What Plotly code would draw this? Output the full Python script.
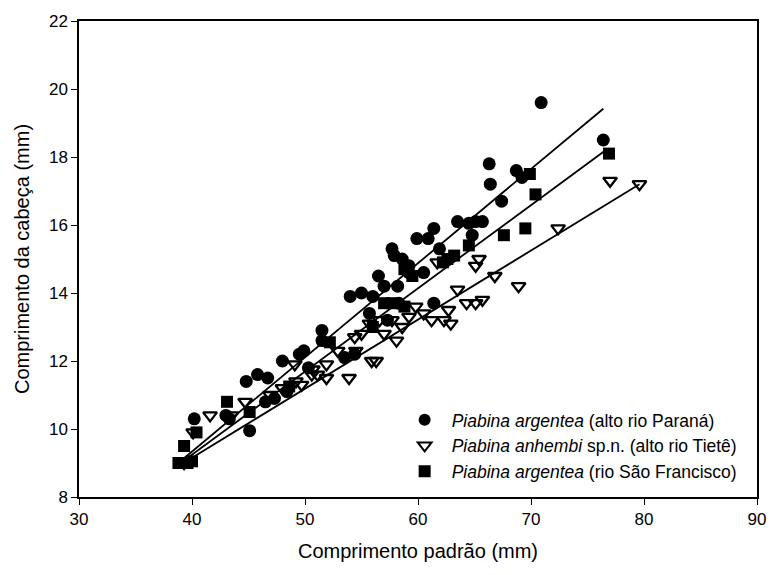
import plotly.graph_objects as go

# Piabina argentea (alto rio Paraná) - circles
parana_x = [40.2, 43.0, 43.3, 44.8, 45.1, 45.8, 46.7, 46.5, 47.3, 48.0, 48.4, 49.5, 49.9, 50.3,
            51.5, 51.5, 53.5, 54.4, 54.0, 55.0, 55.7, 56.0, 56.5, 57.0, 57.3, 57.7, 57.9, 58.2,
            58.3, 58.6, 59.2, 59.2, 59.9, 60.5, 60.9, 61.4, 61.4, 61.9, 63.5, 64.5, 64.8, 65.1,
            65.7, 66.3, 66.4, 67.4, 68.7, 69.2, 70.9, 76.4]
parana_y = [10.3, 10.4, 10.3, 11.4, 9.95, 11.6, 11.5, 10.8, 10.9, 12.0, 11.1, 12.2, 12.3, 11.8,
            12.9, 12.6, 12.1, 12.2, 13.9, 14.0, 13.4, 13.9, 14.5, 14.2, 13.2, 15.3, 15.1, 14.2,
            13.7, 15.0, 14.6, 14.8, 15.6, 14.6, 15.6, 15.9, 13.7, 15.3, 16.1, 16.05, 15.7, 16.1,
            16.1, 17.8, 17.2, 16.7, 17.6, 17.4, 19.6, 18.5]

# Piabina anhembi sp.n. (alto rio Tietê) - open down triangles
anhembi_x = [39.3, 40.1, 41.6, 43.5, 44.7, 46.9, 48.0, 49.1, 49.2, 49.7, 50.6, 50.7, 51.1, 51.9,
             51.9, 52.9, 53.9, 54.4, 54.5, 55.0, 55.7, 55.9, 56.3, 56.6, 57.0, 57.7, 58.1, 58.6,
             59.2, 59.8, 60.5, 61.2, 61.7, 62.3, 62.7, 62.9, 63.5, 64.3, 65.1, 65.7, 65.1, 65.4,
             66.8, 68.9, 72.4, 77.0, 79.6]
anhembi_y = [9.0, 9.9, 10.4, 10.4, 10.8, 11.0, 11.2, 11.9, 11.4, 11.3, 11.6, 11.75, 11.6, 11.9,
             11.5, 12.3, 11.5, 12.7, 12.3, 12.8, 13.1, 12.0, 12.0, 13.2, 12.8, 13.2, 12.6, 13.0,
             13.3, 13.6, 13.4, 13.2, 14.9, 13.2, 13.5, 13.1, 14.1, 13.7, 13.7, 13.8, 14.8, 15.0,
             14.5, 14.2, 15.9, 17.3, 17.2]

# Piabina argentea (rio São Francisco) - squares
sf_x = [38.8, 39.3, 39.6, 40.0, 40.4, 43.1, 45.1, 48.6, 52.2, 56.0, 57.0, 57.7, 58.8, 59.5,
        58.8, 62.2, 62.6, 63.2, 64.5, 67.6, 69.5, 69.9, 70.4, 76.9]
sf_y = [9.0, 9.5, 9.0, 9.05, 9.9, 10.8, 10.5, 11.25, 12.55, 13.0, 13.7, 13.7, 14.7, 14.5,
        13.6, 14.9, 15.0, 15.1, 15.4, 15.7, 15.9, 17.5, 16.9, 18.1]

# regression line end points
line_parana_x = [39.0, 76.4]
line_parana_y = [9.06, 19.42]
line_sf_x = [39.0, 76.6]
line_sf_y = [9.0, 18.2]
line_anhembi_x = [39.0, 79.6]
line_anhembi_y = [8.95, 17.2]

x_ticks = [30, 40, 50, 60, 70, 80, 90]
y_ticks = [8, 10, 12, 14, 16, 18, 20, 22]

FONT = "Liberation Sans, Arial"

fig = go.Figure()
for lx, ly in [(line_parana_x, line_parana_y), (line_sf_x, line_sf_y), (line_anhembi_x, line_anhembi_y)]:
    fig.add_trace(go.Scatter(x=lx, y=ly, mode="lines", line=dict(color="black", width=1.8),
                             showlegend=False, hoverinfo="skip"))

fig.add_trace(go.Scatter(x=parana_x, y=parana_y, mode="markers",
                         name="<i>Piabina argentea</i> (alto rio Paraná)",
                         marker=dict(symbol="circle", size=13, color="black")))
fig.add_trace(go.Scatter(x=anhembi_x, y=anhembi_y, mode="markers",
                         name="<i>Piabina anhembi</i> sp.n. (alto rio Tietê)",
                         marker=dict(symbol="triangle-down-open", size=12, color="black",
                                     line=dict(width=2.3, color="black"))))
fig.add_trace(go.Scatter(x=sf_x, y=sf_y, mode="markers",
                         name="<i>Piabina argentea</i> (rio São Francisco)",
                         marker=dict(symbol="square", size=12, color="black")))

axis_common = dict(showgrid=False, zeroline=False, showline=True, linecolor="black", linewidth=1.5,
                   mirror=True, ticks="outside", ticklen=6, tickwidth=1.3, tickcolor="black",
                   tickfont=dict(family=FONT, size=17, color="black"))
fig.update_xaxes(range=[30, 90], tickvals=x_ticks, ticktext=[str(v) for v in x_ticks],
                 title=dict(text="Comprimento padrão (mm)", standoff=16,
                            font=dict(family=FONT, size=20, color="black")),
                 **axis_common)
fig.update_yaxes(range=[8, 22], tickvals=y_ticks, ticktext=[str(v) for v in y_ticks],
                 title=dict(text="Comprimento da cabeça (mm)", standoff=14,
                            font=dict(family=FONT, size=20, color="black")),
                 **axis_common)

fig.update_layout(
    width=778, height=575,
    margin=dict(l=79, r=18, t=15, b=78),
    plot_bgcolor="white", paper_bgcolor="white",
    legend=dict(x=0.47, y=0.2, xanchor="left", yanchor="top", bgcolor="rgba(0,0,0,0)",
                font=dict(family=FONT, size=17.5, color="black"),
                itemsizing="constant", itemwidth=44, tracegroupgap=0),
)

fig.write_html("out.html")
